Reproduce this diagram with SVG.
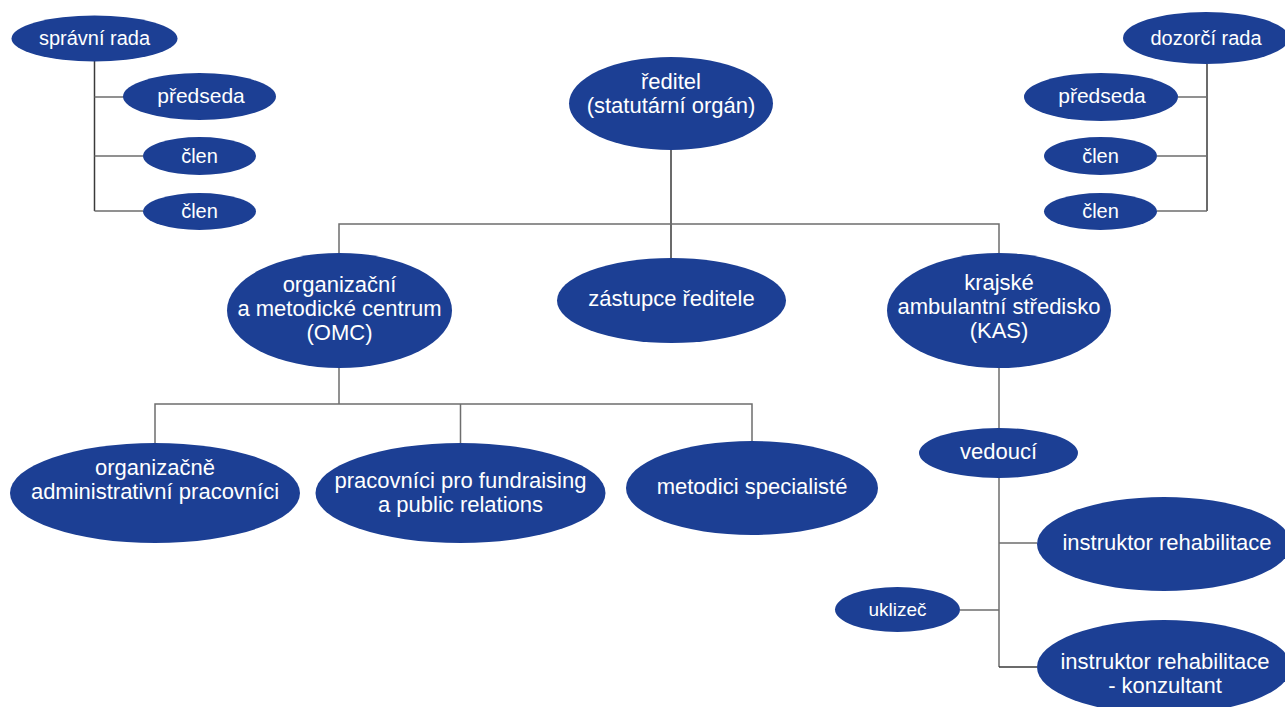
<svg xmlns="http://www.w3.org/2000/svg" width="1285" height="707" viewBox="0 0 1285 707">
<style>
.n{fill:#1c3f94}
.t{fill:#fff;font-family:"Liberation Sans",Arial,sans-serif;font-size:22px;text-anchor:middle}
.s{font-size:20px}
.p{font-size:21px}
.c{fill:none;stroke:#6e6e6e;stroke-width:1.5}
.d{stroke:#3a3a3a}
</style>
<rect width="1285" height="707" fill="#fff"/>
<g id="connectors">
<path class="c d" d="M94.5 60V211"/>
<path class="c" d="M94.5 97H124M94.5 156H143M94.5 211H143"/>
<path class="c d" d="M1207 64V211"/>
<path class="c" d="M1178 97H1207M1157 156H1207M1157 211H1207"/>
<path class="c d" d="M671 150V258"/>
<path class="c" d="M339 253V224H999V253"/>
<path class="c" d="M339 368V404M155 443V404H752V441M460.5 404V443"/>
<path class="c" d="M999 368V428M999 478V667"/>
<path class="c" d="M999 543H1037M960 610H999"/>
<path class="c d" d="M999 667H1037"/>
</g>
<g id="spravni-rada"><ellipse class="n" cx="94.5" cy="38.5" rx="83" ry="23"/><text class="t s" x="94.5" y="45">správní rada</text></g>
<g id="sr-predseda"><ellipse class="n" cx="199.5" cy="96.5" rx="76.5" ry="23.5"/><text class="t p" x="201" y="103">předseda</text></g>
<g id="sr-clen1"><ellipse class="n" cx="199.5" cy="156" rx="56.5" ry="19"/><text class="t s" x="199.5" y="163">člen</text></g>
<g id="sr-clen2"><ellipse class="n" cx="199.5" cy="211.5" rx="56.5" ry="18.5"/><text class="t s" x="199.5" y="218">člen</text></g>
<g id="dozorci-rada"><ellipse class="n" cx="1206" cy="38" rx="83" ry="26"/><text class="t s" x="1206" y="45">dozorčí rada</text></g>
<g id="dr-predseda"><ellipse class="n" cx="1101" cy="97" rx="77" ry="24"/><text class="t p" x="1102" y="103">předseda</text></g>
<g id="dr-clen1"><ellipse class="n" cx="1100.5" cy="156" rx="56.5" ry="19"/><text class="t s" x="1100.5" y="163">člen</text></g>
<g id="dr-clen2"><ellipse class="n" cx="1100.5" cy="211.5" rx="56.5" ry="18.5"/><text class="t s" x="1100.5" y="218">člen</text></g>
<g id="reditel"><ellipse class="n" cx="671" cy="103.5" rx="102" ry="46.5"/><text class="t" x="671" y="89">ředitel</text><text class="t" x="671" y="113">(statutární orgán)</text></g>
<g id="zastupce"><ellipse class="n" cx="671.5" cy="300.5" rx="114.5" ry="42.5"/><text class="t" x="671.5" y="306">zástupce ředitele</text></g>
<g id="omc"><ellipse class="n" cx="339.5" cy="310.5" rx="112.5" ry="57.5"/><text class="t" x="339.5" y="292">organizační</text><text class="t" x="339.5" y="316">a metodické centrum</text><text class="t" x="339.5" y="340">(OMC)</text></g>
<g id="kas"><ellipse class="n" cx="999" cy="310.5" rx="112" ry="57.5"/><text class="t" x="999" y="290">krajské</text><text class="t" x="999" y="314">ambulantní středisko</text><text class="t" x="999" y="338">(KAS)</text></g>
<g id="org-admin"><ellipse class="n" cx="155" cy="493" rx="145" ry="50"/><text class="t" x="155" y="475">organizačně</text><text class="t" x="155" y="499">administrativní pracovníci</text></g>
<g id="fundraising"><ellipse class="n" cx="460.5" cy="493" rx="145" ry="50"/><text class="t" x="460.5" y="488">pracovníci pro fundraising</text><text class="t" x="460.5" y="512">a public relations</text></g>
<g id="metodici"><ellipse class="n" cx="752" cy="488" rx="126" ry="47"/><text class="t" x="752" y="494">metodici specialisté</text></g>
<g id="vedouci"><ellipse class="n" cx="998.5" cy="453" rx="79.5" ry="25"/><text class="t" x="998.5" y="459">vedoucí</text></g>
<g id="instruktor"><ellipse class="n" cx="1164" cy="544" rx="127" ry="47"/><text class="t" x="1167" y="550">instruktor rehabilitace</text></g>
<g id="uklizec"><ellipse class="n" cx="897.5" cy="609.5" rx="62.5" ry="22.5"/><text class="t" style="font-size:19px" x="897.5" y="616">uklizeč</text></g>
<g id="konzultant"><ellipse class="n" cx="1164" cy="667" rx="127" ry="47"/><text class="t" x="1165" y="669">instruktor rehabilitace</text><text class="t" x="1165" y="693">- konzultant</text></g>
</svg>
